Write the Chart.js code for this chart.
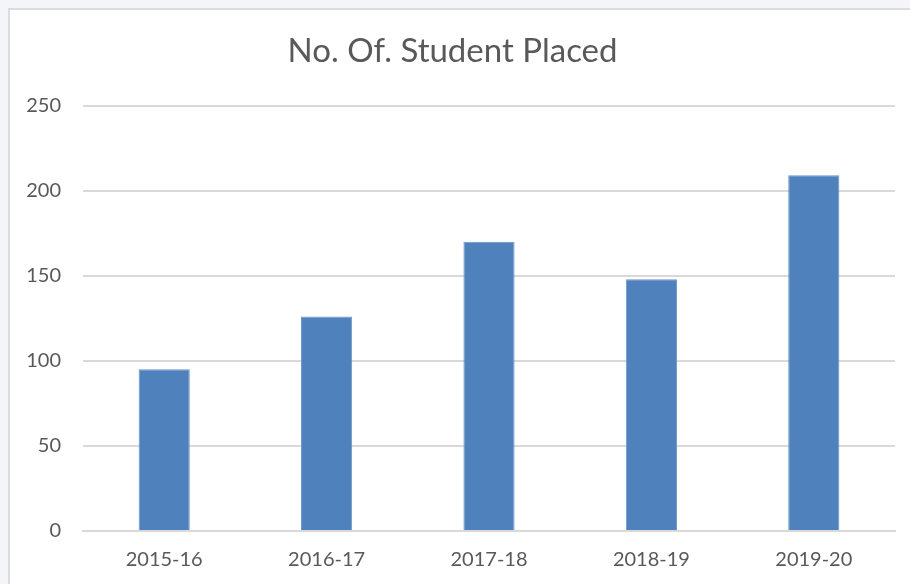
<!DOCTYPE html>
<html>
<head>
<meta charset="utf-8">
<script src="https://cdn.jsdelivr.net/npm/chart.js@4"></script>
<style>
  html, body { margin: 0; padding: 0; background: #f4f5f8; overflow: hidden; }
  #frame {
    position: absolute; left: 8px; top: 8px;
    width: 910px; height: 600px;
    background: #fff;
    border-left: 2px solid #dcdcdc;
    border-top: 2px solid #dcdcdc;
  }
  #wrap { position: absolute; left: 0; top: 0; width: 900px; height: 591px; }
</style>
</head>
<body>
<div id="frame">
  <div id="wrap"><canvas id="chart"></canvas></div>
</div>
<script>
// chart data
const years = ["2015-16", "2016-17", "2017-18", "2018-19", "2019-20"];
const placed = [95, 126, 170, 148, 209];
const yTicks = [0, 50, 100, 150, 200, 250];

Chart.defaults.font.family = "Lato, 'Open Sans', sans-serif";
Chart.defaults.color = "#595959";

var ctx = document.getElementById('chart').getContext('2d');
new Chart(ctx, {
  type: 'bar',
  data: {
    labels: years,
    datasets: [{
      label: 'No. Of. Student Placed',
      data: placed,
      backgroundColor: '#4f81bd',
      borderColor: '#6d96c8',
      borderWidth: 1,
      categoryPercentage: 1,
      barPercentage: 0.315
    }]
  },
  options: {
    responsive: true,
    maintainAspectRatio: false,
    animation: false,
    layout: {
      padding: { left: 0, right: 15, top: 0, bottom: 12 }
    },
    plugins: {
      legend: { display: false },
      tooltip: { enabled: false },
      title: {
        display: true,
        text: 'No. Of. Student Placed',
        color: '#595959',
        font: { size: 33, weight: 'normal' },
        padding: { top: 22, bottom: 34 }
      }
    },
    scales: {
      x: {
        grid: { display: false, drawTicks: false },
        border: { display: true, color: '#d9d9d9', width: 2 },
        ticks: { font: { size: 20 }, padding: 17, color: '#595959' }
      },
      y: {
        min: 0,
        max: 250,
        afterBuildTicks: (scale) => { scale.ticks = yTicks.map(v => ({ value: v })); },
        afterFit: (scale) => { scale.width = 73; },
        grid: { color: '#d9d9d9', lineWidth: 2, drawTicks: false },
        border: { display: false },
        ticks: { font: { size: 20 }, padding: 22, color: '#595959' }
      }
    }
  }
});
</script>
</body>
</html>
